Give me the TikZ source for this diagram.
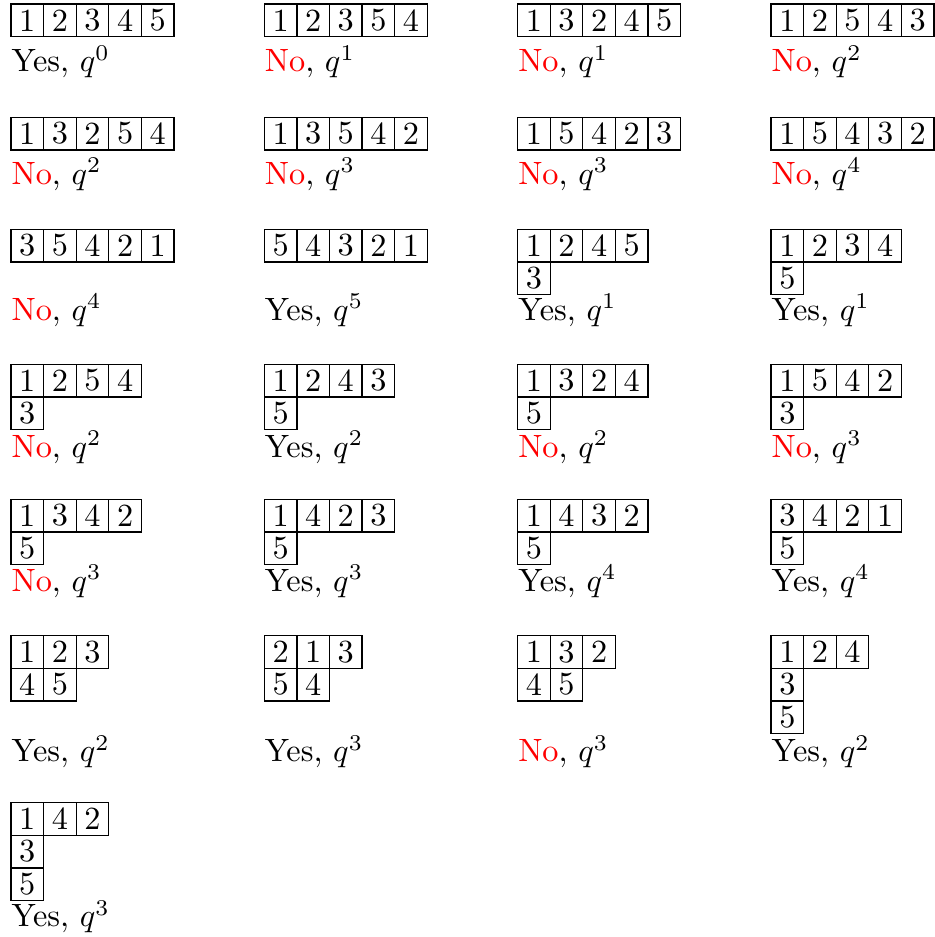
\documentclass[tikz,border=0pt]{standalone}
\usepackage{xcolor}

\tikzset{
  cell/.style={draw, line width=0.4pt, minimum size=10.1pt, inner sep=0pt, outer sep=0pt},
  lab/.style={anchor=base west, inner sep=0pt}
}

\newcommand{\ansyes}{Yes}
\newcommand{\ansno}{\textcolor{red}{No}}

% name, left x, top y, rows, label baseline, label
\newcommand{\yng}[6]{%
  \foreach \r [count=\i] in {#4} {
    \foreach \e [count=\j] in \r {
      \node[cell] (#1-\i-\j) at ({#2+(\j-0.5)*32.6},{#3+(\i-0.5)*32.6}) {\e};
    }
  }
  \node[lab] (#1-lab) at (#2,#5) {#6};
}

\begin{document}
\begin{tikzpicture}[x=0.31pt, y=-0.31pt]
  \useasboundingbox (0,0) rectangle (934,937);

  % row 1
  \yng{a1}{11}{4}{{1,2,3,4,5}}{72}{\ansyes, $q^0$}
  \yng{a2}{264.3}{4}{{1,2,3,5,4}}{72}{\ansno, $q^1$}
  \yng{a3}{517.6}{4}{{1,3,2,4,5}}{72}{\ansno, $q^1$}
  \yng{a4}{771}{4}{{1,2,5,4,3}}{72}{\ansno, $q^2$}

  % row 2
  \yng{b1}{11}{117.3}{{1,3,2,5,4}}{184.5}{\ansno, $q^2$}
  \yng{b2}{264.3}{117.3}{{1,3,5,4,2}}{184.5}{\ansno, $q^3$}
  \yng{b3}{517.6}{117.3}{{1,5,4,2,3}}{184.5}{\ansno, $q^3$}
  \yng{b4}{771}{117.3}{{1,5,4,3,2}}{184.5}{\ansno, $q^4$}

  % row 3
  \yng{c1}{11}{229.3}{{3,5,4,2,1}}{320.5}{\ansno, $q^4$}
  \yng{c2}{264.3}{229.3}{{5,4,3,2,1}}{320.5}{\ansyes, $q^5$}
  \yng{c3}{517.6}{229.3}{{1,2,4,5},{3}}{320.5}{\ansyes, $q^1$}
  \yng{c4}{771}{229.3}{{1,2,3,4},{5}}{320.5}{\ansyes, $q^1$}

  % row 4
  \yng{d1}{11}{364.3}{{1,2,5,4},{3}}{457.3}{\ansno, $q^2$}
  \yng{d2}{264.3}{364.3}{{1,2,4,3},{5}}{457.3}{\ansyes, $q^2$}
  \yng{d3}{517.6}{364.3}{{1,3,2,4},{5}}{457.3}{\ansno, $q^2$}
  \yng{d4}{771}{364.3}{{1,5,4,2},{3}}{457.3}{\ansno, $q^3$}

  % row 5
  \yng{e1}{11}{499.3}{{1,3,4,2},{5}}{591.7}{\ansno, $q^3$}
  \yng{e2}{264.3}{499.3}{{1,4,2,3},{5}}{591.7}{\ansyes, $q^3$}
  \yng{e3}{517.6}{499.3}{{1,4,3,2},{5}}{591.7}{\ansyes, $q^4$}
  \yng{e4}{771}{499.3}{{3,4,2,1},{5}}{591.7}{\ansyes, $q^4$}

  % row 6
  \yng{f1}{11}{635.7}{{1,2,3},{4,5}}{761.7}{\ansyes, $q^2$}
  \yng{f2}{264.3}{635.7}{{2,1,3},{5,4}}{761.7}{\ansyes, $q^3$}
  \yng{f3}{517.6}{635.7}{{1,3,2},{4,5}}{761.7}{\ansno, $q^3$}
  \yng{f4}{771}{635.7}{{1,2,4},{3},{5}}{761.7}{\ansyes, $q^2$}

  % row 7
  \yng{g1}{11}{802.7}{{1,4,2},{3},{5}}{926.7}{\ansyes, $q^3$}

\end{tikzpicture}
\end{document}
